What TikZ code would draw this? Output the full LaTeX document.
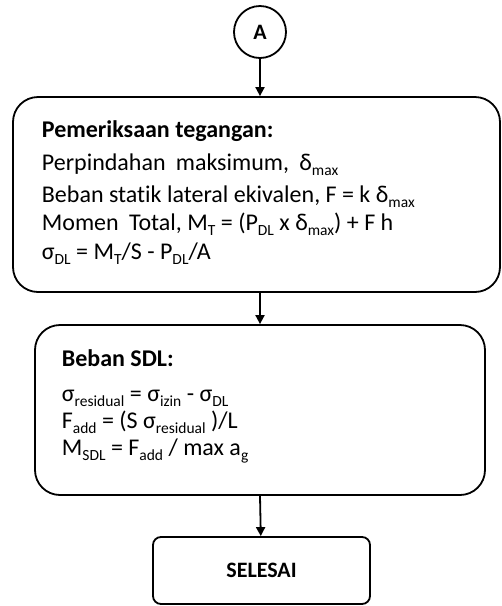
\documentclass[tikz,border=0pt]{standalone}
\usepackage{fontspec}
\setmainfont{Carlito}[Ligatures=NoCommon]
\usetikzlibrary{arrows.meta}
\newcommand\sbx[1]{\raisebox{-0.22em}{\fontsize{15.5pt}{15.5pt}\selectfont #1}}
\begin{document}
\begin{tikzpicture}[x=1pt,y=-1pt, line width=1.8pt,
  box/.style={draw, rounded corners=25pt, inner sep=0pt},
  txt/.style={anchor=base west, inner sep=0pt, font=\fontsize{24pt}{28pt}\selectfont},
  bold/.style={font=\bfseries\fontsize{24pt}{28pt}\selectfont},
  arr/.style={-{Triangle[width=9pt,length=9pt]}}]
\useasboundingbox (0,0) rectangle (502,606);
\node[draw, circle, minimum size=52pt, inner sep=0pt, font=\bfseries\fontsize{22pt}{26pt}\selectfont] (A) at (260,32) {A};
\node[box, minimum width=487pt, minimum height=195pt] (b1) at (256.5,194.5) {};
\node[box, minimum width=450pt, minimum height=170pt] (b2) at (260,410) {};
\node[box, rounded corners=8pt, minimum width=217pt, minimum height=67pt, font=\bfseries\fontsize{22pt}{26pt}\selectfont] (S) at (261.5,570.5) {SELESAI};
\node[txt, bold] (l1) at (41,137) {Pemeriksaan tegangan:};
\node[txt] (l2) at (41,170) {Perpindahan\hspace{0.2em} maksimum,\hspace{0.2em} δ\sbx{max}};
\node[txt] (l3) at (41,202) {Beban statik lateral ekivalen, F = k δ\sbx{max}};
\node[txt] (l4) at (41,230) {Momen\hspace{0.2em} Total, M\sbx{T} = (P\sbx{DL} x δ\sbx{max}) + F h};
\node[txt] (l5) at (41,259) {σ\sbx{DL} = M\sbx{T}/S - P\sbx{DL}/A};
\node[txt, bold] (m1) at (61,366) {Beban SDL:};
\node[txt] (m2) at (61,401) {σ\sbx{residual} = σ\sbx{izin} - σ\sbx{DL}};
\node[txt] (m3) at (61,428) {F\sbx{add} = (S σ\sbx{residual} )/L};
\node[txt] (m4) at (61,455) {M\sbx{SDL} = F\sbx{add} / max a\sbx{g}};
\draw[arr] (A) -- (A |- b1.north);
\draw[arr] (A |- b1.south) -- (A |- b2.north);
\draw[arr] (A |- b2.south) -- (S);
\end{tikzpicture}
\end{document}
